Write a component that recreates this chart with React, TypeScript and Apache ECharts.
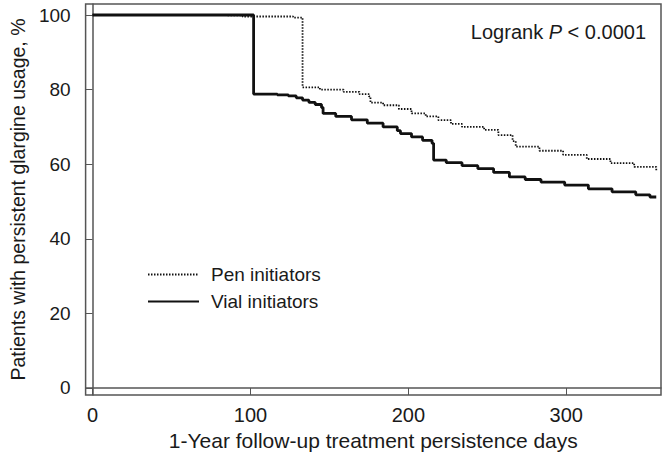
import React, { useEffect, useRef } from "react";
import * as echarts from "echarts";

// Kaplan-Meier style step data: [day, percent]
const vialDays = [0, 102, 117, 124, 129, 133, 137, 141, 145, 146, 154, 164, 174, 184, 193, 195, 202, 209, 215, 216, 224, 234, 244, 254, 264, 274, 284, 299, 314, 329, 344, 353, 357];
const vialPct = [100, 78.8, 78.6, 78.3, 77.8, 77.2, 76.6, 76.0, 75.2, 73.6, 72.8, 71.9, 71.0, 70.0, 69.0, 68.2, 67.3, 66.4, 65.6, 61.1, 60.4, 59.6, 58.8, 57.8, 56.6, 55.9, 55.2, 54.4, 53.4, 52.6, 51.8, 51.2, 51.2];

const penDays = [0, 70, 95, 127, 133, 144, 159, 169, 175, 176, 184, 194, 202, 211, 219, 227, 234, 248, 257, 266, 268, 283, 298, 313, 328, 343, 357];
const penPct = [100, 99.9, 99.6, 99.3, 80.6, 80.0, 79.4, 78.8, 78.2, 76.5, 75.8, 74.8, 73.6, 72.8, 71.8, 70.8, 70.0, 69.2, 67.8, 66.2, 64.7, 63.6, 62.5, 61.4, 60.3, 59.3, 58.4];

const xTicks = [0, 100, 200, 300];
const yTicks = [0, 20, 40, 60, 80, 100];
const seriesNames = ["Pen initiators", "Vial initiators"];

const FONT = "Liberation Sans";

export default function App() {
  const ref = useRef<HTMLDivElement>(null);
  useEffect(() => {
    if (!ref.current) return;
    const chart = echarts.init(ref.current, undefined, { renderer: "svg" });
    const vial = vialDays.map((d, i) => [d, vialPct[i]]);
    const pen = penDays.map((d, i) => [d, penPct[i]]);
    const axisColor = "#555";
    const textColor = "#1a1a1a";
    chart.setOption({
      animation: false,
      backgroundColor: "#fff",
      title: {
        text: "Logrank {i|P} < 0.0001",
        right: 15,
        top: 17,
        textStyle: {
          fontFamily: FONT,
          fontSize: 20,
          fontWeight: "normal",
          color: textColor,
          rich: {
            i: { fontFamily: FONT, fontSize: 20, fontStyle: "italic", color: textColor },
          },
        },
      },
      legend: {
        orient: "vertical",
        left: 142,
        top: 260,
        itemWidth: 51,
        itemHeight: 14,
        itemGap: 8,
        data: seriesNames,
        itemStyle: { opacity: 0 },
        textStyle: { fontFamily: FONT, fontSize: 19, color: textColor, padding: [0, 0, 0, 7] },
      },
      grid: {
        left: 81,
        top: 4,
        width: 580,
        height: 391,
        show: true,
        borderColor: axisColor,
        borderWidth: 1.5,
        containLabel: false,
      },
      xAxis: {
        type: "value",
        min: -4.4,
        max: 360,
        name: "1-Year follow-up treatment persistence days",
        nameLocation: "middle",
        nameGap: 34,
        nameTextStyle: { fontFamily: FONT, fontSize: 21, color: textColor },
        axisLine: { show: true, lineStyle: { color: axisColor, width: 1.5 } },
        axisTick: { show: true, length: 7, customValues: xTicks, lineStyle: { color: axisColor } },
        axisLabel: { customValues: xTicks, margin: 10, fontFamily: FONT, fontSize: 20, color: textColor },
        splitLine: { show: false },
      },
      yAxis: {
        type: "value",
        min: -1.88,
        max: 102.95,
        name: "Patients with persistent glargine usage, %",
        nameLocation: "middle",
        nameGap: 56,
        nameTextStyle: { fontFamily: FONT, fontSize: 19.5, color: textColor },
        axisLine: { show: true, lineStyle: { color: axisColor, width: 1.5 } },
        axisTick: { show: true, length: 7, customValues: yTicks, lineStyle: { color: axisColor } },
        axisLabel: { customValues: yTicks, margin: 15, fontFamily: FONT, fontSize: 19, color: textColor },
        splitLine: { show: false },
      },
      series: [
        {
          name: seriesNames[0],
          type: "line",
          step: "end",
          symbol: "none",
          data: pen,
          lineStyle: { color: "#111", width: 1.8, type: [1.5, 1.5] },
          itemStyle: { color: "#111" },
          z: 2,
        },
        {
          name: seriesNames[1],
          type: "line",
          step: "end",
          symbol: "none",
          data: vial,
          lineStyle: { color: "#111", width: 2.8, type: "solid" },
          itemStyle: { color: "#111" },
          z: 3,
        },
      ],
    });
    return () => chart.dispose();
  }, []);
  return (
    <div
      ref={ref}
      style={{ position: "fixed", left: 0, top: 0, width: 666, height: 463 }}
    />
  );
}
